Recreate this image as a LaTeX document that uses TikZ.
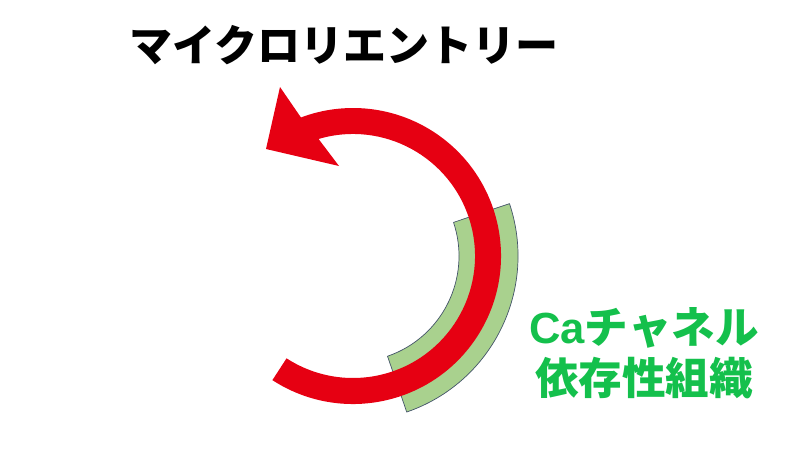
\documentclass[tikz,border=0pt]{standalone}
\usepackage{fontspec}
\newfontfamily\cjk{Noto Sans CJK JP}
\newfontfamily\lat{Liberation Sans}
\definecolor{loopred}{RGB}{230,0,18}
\definecolor{bandgreen}{RGB}{169,209,142}
\definecolor{bandline}{RGB}{68,84,106}
\definecolor{labelgreen}{RGB}{20,192,76}
\begin{document}
\begin{tikzpicture}[x=0.025cm, y=0.025cm, line join=round]
	\useasboundingbox (0,0) rectangle (800,450);
	\tikzset{title/.style={font=\cjk\bfseries\fontsize{30.6}{36}\selectfont},
		tissue/.style={font=\cjk\bfseries\fontsize{31}{36.3}\selectfont, text=labelgreen, align=center}}
	\coordinate (C) at (353,194);
	\begin{scope}[shift={(C)}]
		% Ca channel dependent tissue
		\fill[bandgreen, draw=bandline, line width=0.5pt] (-71:106) -- (-71:165)
			arc[start angle=-71, end angle=18.5, radius=165] -- (18.5:106)
			arc[start angle=18.5, end angle=-71, radius=106] -- cycle;
		% re-entry loop
		\fill[loopred] (-123:148) arc[start angle=-123, end angle=110.6, radius=148]
			-- (-73,169) -- (-87,107) -- (-14,90) -- (106.4:122)
			arc[start angle=106.4, end angle=-123, radius=122] -- cycle;
	\end{scope}
	\node[title] (ttl) at (344,405) {マイクロリエントリー};
	\node[tissue] (lbl) at (644,97) {{\lat\bfseries Ca}チャネル\\依存性組織};
\end{tikzpicture}
\end{document}
